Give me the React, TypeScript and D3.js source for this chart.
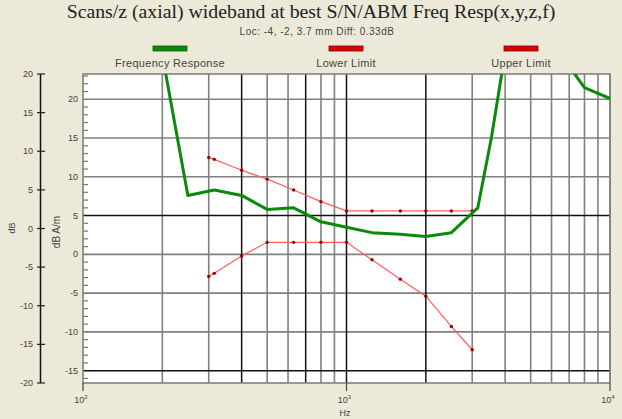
import * as d3 from "d3";

// frequency response (green)
const respHz = [200, 250, 315, 400, 500, 630, 800, 1000, 1250, 1600, 2000, 2500, 3150, 3550, 4000, 5000, 6300, 8000, 10000];
const respDb = [25.7, 7.6, 8.3, 7.6, 5.8, 6.0, 4.2, 3.5, 2.8, 2.6, 2.3, 2.8, 6.0, 15.1, 26, 32, 26.4, 21.5, 20.1];

// limits (red)
const limitHz = [300, 315, 400, 500, 630, 800, 1000, 1250, 1600, 2000, 2500, 3000];
const upperDb = [12.5, 12.25, 10.85, 9.7, 8.3, 6.8, 5.6, 5.6, 5.6, 5.6, 5.6, 5.6];
const lowerDb = [-2.85, -2.45, -0.2, 1.55, 1.55, 1.55, 1.55, -0.7, -3.2, -5.4, -9.3, -12.3];

// grid
const darkGridHz = [400, 700, 1000, 2000];
const lightGridHz = [200, 300, 500, 600, 800, 900, 3000, 4000, 5000, 6000, 7000, 8000, 9000, 10000];
const innerTicks = [20, 15, 10, 5, 0, -5, -10, -15];
const darkGridDb = [5, -15];
const outerTicks = [20, 15, 10, 5, 0, -5, -10, -15, -20];
const decades = [{ v: 100, e: "2" }, { v: 1000, e: "3" }, { v: 10000, e: "4" }];

const W = 622, H = 419;
const left = 83, right = 610, top = 74, bottom = 383;

export default function App() {
  const x = d3.scaleLog().domain([100, 10000]).range([left, right]);
  const y = d3.scaleLinear().domain([-16.59, 23.26]).range([bottom, top]);
  const yOuter = d3.scaleLinear().domain([-20, 20]).range([bottom, top]);

  const line = d3.line<[number, number]>().x(d => x(d[0])).y(d => y(d[1]));
  const resp = respHz.map((f, i) => [f, respDb[i]] as [number, number]);
  const upper = limitHz.map((f, i) => [f, upperDb[i]] as [number, number]);
  const lower = limitHz.map((f, i) => [f, lowerDb[i]] as [number, number]);

  const minor = d3.range(-16, 24, 1).filter(v => v % 5 !== 0);
  const font = "'Liberation Sans', Arial, sans-serif";
  const txt = "#444";

  const legend = [
    { label: "Frequency Response", cx: 170, color: "#0a8a0a", edge: "#035c03" },
    { label: "Lower Limit", cx: 346, color: "#e00000", edge: "#800000" },
    { label: "Upper Limit", cx: 521, color: "#e00000", edge: "#800000" },
  ];

  return (
    <svg width={W} height={H} style={{ position: "absolute", left: 0, top: 0 }}>
      <defs>
        <clipPath id="plot">
          <rect x={left} y={top} width={right - left} height={bottom - top} />
        </clipPath>
      </defs>
      <rect width={W} height={H} fill="#ece9d8" />

      <text x={311} y={18} textAnchor="middle" fontFamily="'Liberation Serif', 'Times New Roman', serif" fontSize={19.8} fill="#222">
        Scans/z (axial) wideband at best S/N/ABM Freq Resp(x,y,z,f)
      </text>
      <text x={317} y={35} textAnchor="middle" fontFamily={font} fontSize={10} letterSpacing={0.5} fill={txt}>
        Loc: -4, -2, 3.7 mm Diff: 0.33dB
      </text>

      {legend.map(l => (
        <g key={l.label}>
          <rect x={l.cx - 17} y={46} width={34} height={5} fill={l.color} stroke={l.edge} strokeWidth={0.8} />
          <text x={l.cx} y={67} textAnchor="middle" fontFamily={font} fontSize={11} letterSpacing={0.3} fill={txt}>{l.label}</text>
        </g>
      ))}

      <rect x={left} y={top} width={right - left} height={bottom - top} fill="#fff" />

      {lightGridHz.map(f => (
        <line key={f} x1={x(f)} x2={x(f)} y1={top} y2={bottom} stroke="#808080" strokeWidth={1.6} />
      ))}
      {innerTicks.filter(v => !darkGridDb.includes(v)).map(v => (
        <line key={v} x1={left} x2={right} y1={y(v)} y2={y(v)} stroke="#808080" strokeWidth={1.6} />
      ))}
      {darkGridHz.map(f => (
        <line key={f} x1={x(f)} x2={x(f)} y1={top} y2={bottom} stroke="#111" strokeWidth={1.5} />
      ))}
      {darkGridDb.map(v => (
        <line key={v} x1={left} x2={right} y1={y(v)} y2={y(v)} stroke="#111" strokeWidth={1.5} />
      ))}
      <rect x={left} y={top} width={right - left} height={bottom - top} fill="none" stroke="#808080" strokeWidth={1.6} />

      {minor.map(v => (
        <line key={v} x1={left} x2={left + 5} y1={y(v)} y2={y(v)} stroke="#777" strokeWidth={1.2} />
      ))}
      {innerTicks.map(v => (
        <text key={v} x={left - 5} y={y(v) + 3} textAnchor="end" fontFamily={font} fontSize={9} fill={txt}>{v}</text>
      ))}

      <line x1={40.5} x2={40.5} y1={top} y2={bottom} stroke="#111" strokeWidth={1.5} />
      {outerTicks.map(v => (
        <g key={v}>
          <line x1={37} x2={45} y1={yOuter(v)} y2={yOuter(v)} stroke="#222" strokeWidth={1.2} />
          <text x={33} y={yOuter(v) + 3} textAnchor="end" fontFamily={font} fontSize={9} fill={txt}>{v}</text>
        </g>
      ))}
      <text transform="translate(15,228) rotate(-90)" textAnchor="middle" fontFamily={font} fontSize={9} fill={txt}>dB</text>
      <text transform="translate(60,232) rotate(-90)" textAnchor="middle" fontFamily={font} fontSize={10} fill={txt}>dB A/m</text>

      {decades.map(d => (
        <g key={d.v}>
          <line x1={x(d.v)} x2={x(d.v)} y1={bottom} y2={bottom + 8} stroke="#444" strokeWidth={1.2} />
          <text x={x(d.v) - 2} y={403} textAnchor="middle" fontFamily={font} fontSize={9} fill={txt}>
            10<tspan dy={-4} fontSize={6}>{d.e}</tspan>
          </text>
        </g>
      ))}
      <text x={345} y={416} textAnchor="middle" fontFamily={font} fontSize={9} fill={txt}>Hz</text>

      <g clipPath="url(#plot)">
        <path d={line(upper) ?? ""} fill="none" stroke="#ff5c5c" strokeWidth={1.2} />
        <path d={line(lower) ?? ""} fill="none" stroke="#ff5c5c" strokeWidth={1.2} />
        {[...upper, ...lower].map((p, i) => (
          <circle key={i} cx={x(p[0])} cy={y(p[1])} r={1.7} fill="#a00000" />
        ))}
        <path d={line(resp) ?? ""} fill="none" stroke="#0a8a0a" strokeWidth={3} strokeLinejoin="round" />
      </g>
    </svg>
  );
}
